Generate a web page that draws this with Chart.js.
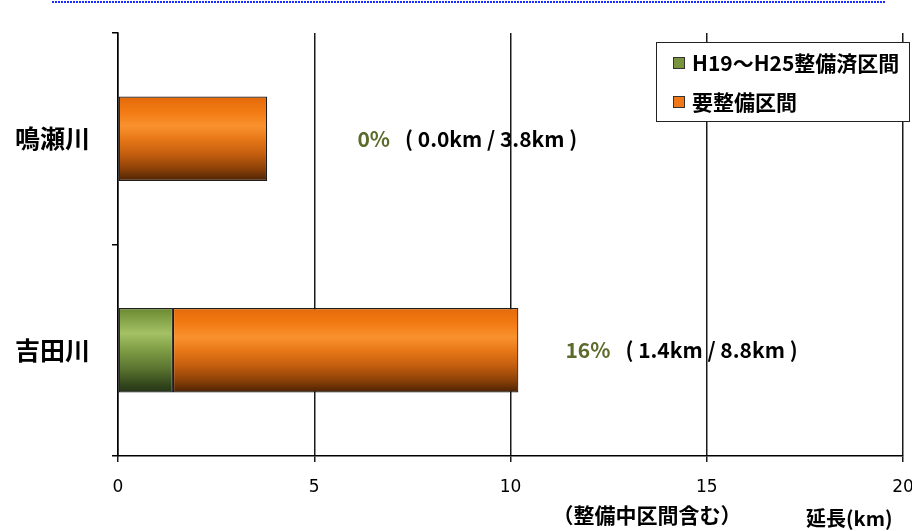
<!DOCTYPE html>
<html>
<head>
<meta charset="utf-8">
<script src="https://cdn.jsdelivr.net/npm/chart.js@4"></script>
<style>
  html, body { margin: 0; padding: 0; background: #fff; }
  #wrap { width: 912px; height: 531px; }
</style>
</head>
<body>
<div id="wrap"><canvas id="c"></canvas></div>
<script>
// data
const rivers = ['鳴瀬川', '吉田川'];
const doneKm = [0.0, 1.4];     // H19～H25整備済区間
const remainKm = [3.8, 8.8];   // 要整備区間
const seriesNames = ['H19～H25整備済区間', '要整備区間'];
const xTicks = [0, 5, 10, 15, 20];

const jp = '"Noto Sans CJK JP", sans-serif';
const solid = ['#77933c', '#f07818'];

// vertical shading like the original bars
const stops = [
  [[0, '#6a8830'], [0.3, '#a4c264'], [0.5, '#7e9c44'], [0.72, '#5a7430'], [0.9, '#34481c'], [1, '#243418']],
  [[0, '#e46a0a'], [0.18, '#f27a12'], [0.35, '#f9922e'], [0.5, '#e87818'], [0.68, '#c45e0e'], [0.85, '#8e4208'], [1, '#4a2204']]
];

function shade(i) {
  return function (ctx) {
    const chart = ctx.chart;
    if (!chart.chartArea || ctx.type !== 'data') return solid[i];
    const y = chart.scales.y;
    const h = (y.bottom - y.top) / rivers.length * 0.4;
    const mid = y.getPixelForValue(ctx.dataIndex);
    const g = chart.ctx.createLinearGradient(0, mid - h / 2, 0, mid + h / 2);
    stops[i].forEach(s => g.addColorStop(s[0], s[1]));
    return g;
  };
}

const extras = {
  id: 'extras',
  afterDraw(chart) {
    const c = chart.ctx;
    const x = chart.scales.x, y = chart.scales.y;
    c.save();

    // blue dotted rule at the very top
    c.strokeStyle = '#1a2cff';
    c.lineWidth = 2;
    c.setLineDash([2, 1]);
    c.beginPath(); c.moveTo(52, 2); c.lineTo(885, 2); c.stroke();
    c.setLineDash([]);

    // percentage notes next to the bars
    const noteAt = [6.1, 11.4];
    c.textBaseline = 'middle';
    rivers.forEach((r, i) => {
      const yy = y.getPixelForValue(i);
      const pct = Math.round(doneKm[i] / remainKm[i] * 100) + '%';
      const x0 = x.getPixelForValue(noteAt[i]);
      c.font = 'bold 21px ' + jp;
      c.fillStyle = '#5b6b2b';
      c.textAlign = 'left';
      c.fillText(pct, x0, yy);
      const w = c.measureText(pct).width;
      c.fillStyle = '#000';
      c.fillText('( ' + doneKm[i].toFixed(1) + 'km / ' + remainKm[i].toFixed(1) + 'km )', x0 + w + 15, yy);
    });

    // legend box
    c.fillStyle = '#fff';
    c.fillRect(656, 42, 254, 80);
    c.strokeStyle = '#222';
    c.lineWidth = 1;
    c.strokeRect(656.5, 42.5, 253, 79);
    seriesNames.forEach((n, i) => {
      const cy = 63 + i * 39;
      c.fillStyle = solid[i];
      c.fillRect(673, cy - 6, 12, 12);
      c.strokeStyle = '#333';
      c.strokeRect(673.5, cy - 5.5, 11, 11);
      c.fillStyle = '#000';
      c.font = 'bold 21px ' + jp;
      c.textAlign = 'left';
      c.fillText(n, 692, cy);
    });

    // bottom notes
    c.font = 'bold 21px ' + jp;
    c.textAlign = 'center';
    c.fillText('（整備中区間含む）', 647, 515);
    c.font = 'bold 20px ' + jp;
    c.textAlign = 'left';
    c.fillText('延長(km)', 806, 518);
    c.restore();
  }
};

new Chart(document.getElementById('c'), {
  type: 'bar',
  data: {
    labels: rivers,
    datasets: [
      { label: seriesNames[0], data: doneKm, backgroundColor: shade(0), borderColor: '#1e1e1e', borderWidth: 1.2, borderSkipped: false },
      { label: seriesNames[1], data: remainKm, backgroundColor: shade(1), borderColor: '#1e1e1e', borderWidth: 1.2, borderSkipped: false }
    ]
  },
  options: {
    indexAxis: 'y',
    responsive: true,
    maintainAspectRatio: false,
    animation: false,
    datasets: { bar: { categoryPercentage: 1, barPercentage: 0.4 } },
    layout: { padding: { top: 33, right: 9, left: 14, bottom: 33 } },
    plugins: { legend: { display: false }, tooltip: { enabled: false } },
    scales: {
      x: {
        stacked: true,
        min: 0, max: 20,
        afterBuildTicks: s => { s.ticks = xTicks.map(v => ({ value: v })); },
        afterFit: s => { s.height = 42; s.paddingLeft = 0; s.paddingRight = 0; },
        grid: { color: '#1a1a1a', lineWidth: 1.5, tickLength: 6 },
        border: { color: '#000', width: 1.5 },
        ticks: { color: '#000', padding: 15, font: { family: '"DejaVu Sans"', size: 17 } }
      },
      y: {
        stacked: true,
        afterFit: s => { s.width = 104; s.paddingTop = 0; s.paddingBottom = 0; },
        grid: { drawOnChartArea: false, offset: true, tickLength: 6, color: '#000', lineWidth: 1.5 },
        border: { color: '#000', width: 1.5 },
        ticks: { color: '#000', padding: 22, font: { family: jp, size: 25, weight: 'bold' } }
      }
    }
  },
  plugins: [extras]
});
</script>
</body>
</html>
